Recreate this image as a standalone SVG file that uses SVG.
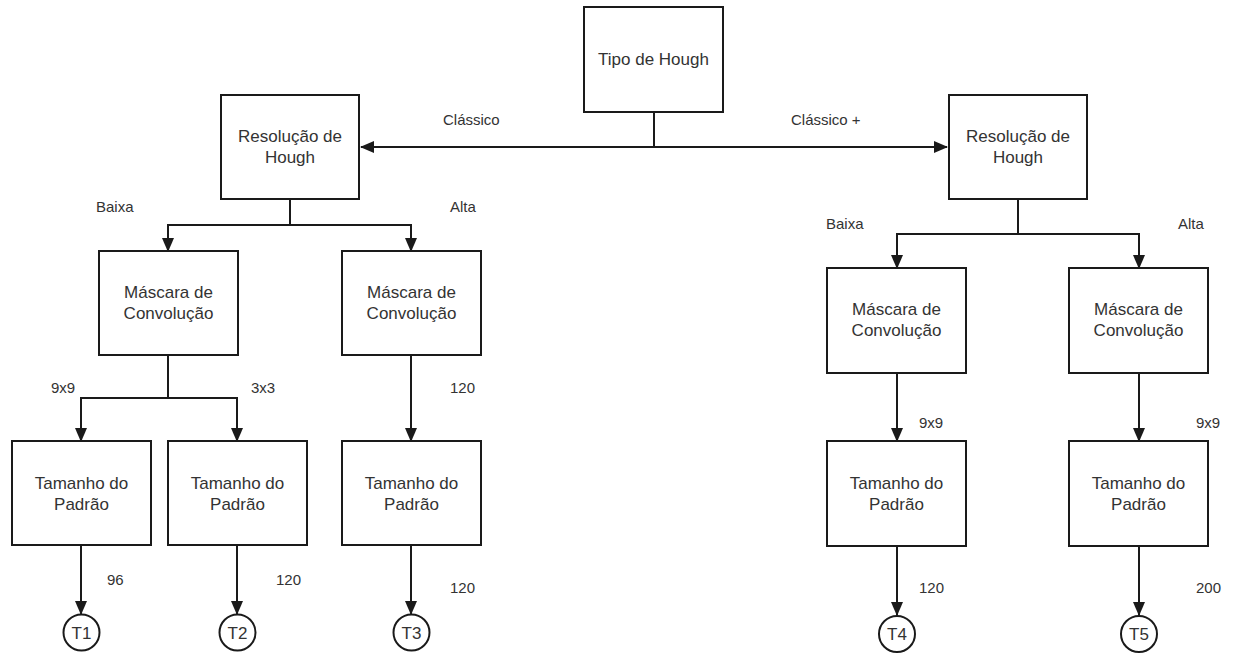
<svg xmlns="http://www.w3.org/2000/svg" width="1235" height="655" viewBox="0 0 1235 655">
<style>
.box{fill:#fff;stroke:#1a1a1a;stroke-width:2}
.t{font-family:"Liberation Sans",Arial,sans-serif;font-size:17px;fill:#333;text-anchor:middle}
.l{font-family:"Liberation Sans",Arial,sans-serif;font-size:15px;fill:#333}
.c{fill:none;stroke:#1a1a1a;stroke-width:2}
</style>
<defs>
<marker id="arr" viewBox="0 0 14 12" refX="13" refY="6" markerWidth="14" markerHeight="12" markerUnits="userSpaceOnUse" orient="auto">
<path d="M0,0 L14,6 L0,12 Z" fill="#1a1a1a"/>
</marker>
</defs>
<rect width="1235" height="655" fill="#fff"/>
<g id="connectors">
<path class="c" d="M654,112 V147"/>
<path class="c" d="M654,147 H361" marker-end="url(#arr)"/>
<path class="c" d="M654,147 H947" marker-end="url(#arr)"/>
<path class="c" d="M290,199 V225 H168 V251" marker-end="url(#arr)"/>
<path class="c" d="M290,225 H411 V251" marker-end="url(#arr)"/>
<path class="c" d="M168,355 V398 H81 V441" marker-end="url(#arr)"/>
<path class="c" d="M168,398 H237 V441" marker-end="url(#arr)"/>
<path class="c" d="M411,355 V441" marker-end="url(#arr)"/>
<path class="c" d="M81,545 V614" marker-end="url(#arr)"/>
<path class="c" d="M237,545 V614" marker-end="url(#arr)"/>
<path class="c" d="M411,545 V614" marker-end="url(#arr)"/>
<path class="c" d="M1018,199 V234 H897 V268" marker-end="url(#arr)"/>
<path class="c" d="M1018,234 H1139 V268" marker-end="url(#arr)"/>
<path class="c" d="M897,373 V441" marker-end="url(#arr)"/>
<path class="c" d="M1139,373 V441" marker-end="url(#arr)"/>
<path class="c" d="M897,546 V615" marker-end="url(#arr)"/>
<path class="c" d="M1139,546 V615" marker-end="url(#arr)"/>
</g>
<g id="labels">
<text class="l" x="443" y="125">Clássico</text>
<text class="l" x="791" y="125">Clássico +</text>
<text class="l" x="96" y="212">Baixa</text>
<text class="l" x="450" y="212">Alta</text>
<text class="l" x="826" y="229">Baixa</text>
<text class="l" x="1178" y="229">Alta</text>
<text class="l" x="51" y="393">9x9</text>
<text class="l" x="251" y="393">3x3</text>
<text class="l" x="450" y="393">120</text>
<text class="l" x="919" y="428">9x9</text>
<text class="l" x="1196" y="428">9x9</text>
<text class="l" x="107" y="585">96</text>
<text class="l" x="276" y="585">120</text>
<text class="l" x="450" y="593">120</text>
<text class="l" x="919" y="593">120</text>
<text class="l" x="1196" y="593">200</text>
</g>
<g id="tipo">
<rect class="box" x="584" y="7" width="139" height="105"/>
<text class="t" x="653.5" y="65">Tipo de Hough</text>
</g>
<g id="res-left">
<rect class="box" x="221" y="95" width="138" height="104"/>
<text class="t" x="290" y="141.5">Resolução de</text>
<text class="t" x="290" y="163">Hough</text>
</g>
<g id="res-right">
<rect class="box" x="949" y="95" width="138" height="104"/>
<text class="t" x="1018" y="141.5">Resolução de</text>
<text class="t" x="1018" y="163">Hough</text>
</g>
<g id="masc-1">
<rect class="box" x="99" y="251" width="139" height="104"/>
<text class="t" x="168.5" y="298">Máscara de</text>
<text class="t" x="168.5" y="319">Convolução</text>
</g>
<g id="masc-2">
<rect class="box" x="342" y="251" width="139" height="104"/>
<text class="t" x="411.5" y="298">Máscara de</text>
<text class="t" x="411.5" y="319">Convolução</text>
</g>
<g id="masc-3">
<rect class="box" x="827" y="268" width="139" height="105"/>
<text class="t" x="896.5" y="315">Máscara de</text>
<text class="t" x="896.5" y="336">Convolução</text>
</g>
<g id="masc-4">
<rect class="box" x="1069" y="268" width="139" height="105"/>
<text class="t" x="1138.5" y="315">Máscara de</text>
<text class="t" x="1138.5" y="336">Convolução</text>
</g>
<g id="tam-1">
<rect class="box" x="12" y="441" width="139" height="104"/>
<text class="t" x="81.5" y="488.5">Tamanho do</text>
<text class="t" x="81.5" y="509.5">Padrão</text>
</g>
<g id="tam-2">
<rect class="box" x="168" y="441" width="139" height="104"/>
<text class="t" x="237.5" y="488.5">Tamanho do</text>
<text class="t" x="237.5" y="509.5">Padrão</text>
</g>
<g id="tam-3">
<rect class="box" x="342" y="441" width="139" height="104"/>
<text class="t" x="411.5" y="488.5">Tamanho do</text>
<text class="t" x="411.5" y="509.5">Padrão</text>
</g>
<g id="tam-4">
<rect class="box" x="827" y="441" width="139" height="105"/>
<text class="t" x="896.5" y="489">Tamanho do</text>
<text class="t" x="896.5" y="510">Padrão</text>
</g>
<g id="tam-5">
<rect class="box" x="1069" y="441" width="139" height="105"/>
<text class="t" x="1138.5" y="489">Tamanho do</text>
<text class="t" x="1138.5" y="510">Padrão</text>
</g>
<g id="T1"><circle class="box" cx="81.5" cy="632.5" r="18"/><text class="t" x="81.5" y="638.5">T1</text></g>
<g id="T2"><circle class="box" cx="237.5" cy="632.5" r="18"/><text class="t" x="237.5" y="638.5">T2</text></g>
<g id="T3"><circle class="box" cx="411.5" cy="632.5" r="18"/><text class="t" x="411.5" y="638.5">T3</text></g>
<g id="T4"><circle class="box" cx="897" cy="634" r="18"/><text class="t" x="897" y="640">T4</text></g>
<g id="T5"><circle class="box" cx="1139" cy="634" r="18"/><text class="t" x="1139" y="640">T5</text></g>
</svg>
